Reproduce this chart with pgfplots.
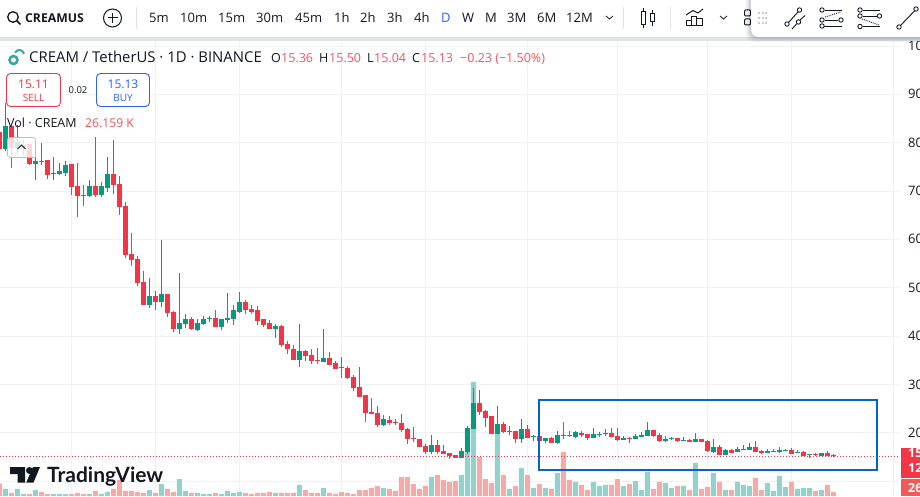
\documentclass[border=0pt]{standalone}
\usepackage{pgfplots}
\usepackage{pgfplotstable}
\usepackage{fontspec}
\pgfplotsset{compat=1.18}
\setmainfont{Open Sans}
\newfontfamily\logofont{Lato}
\definecolor{cr}{HTML}{F23645}
\definecolor{cg}{HTML}{089981}
\definecolor{vr}{HTML}{F7A9A7}
\definecolor{vg}{HTML}{92D2CC}
\definecolor{tx}{HTML}{131722}
\definecolor{lr}{HTML}{F7525F}
\definecolor{bl}{HTML}{2962FF}
\definecolor{box}{HTML}{0066CC}
\definecolor{gridc}{HTML}{F0F1F4}
\definecolor{band}{HTML}{E0E3EB}
\definecolor{volt}{HTML}{EF5B58}
\definecolor{coin}{HTML}{3AA6A6}
\pgfplotstableread{
k h l t b
-1 82.7 78.4 82.2 78.7
1 83.25 74.7 83.25 78.97
4 79.86 75.38 79.72 75.59
6 79.93 75.38 76.21 76.00
7 76.41 72.48 76.41 73.31
11 75.59 69.17 75.59 70.83
12 75.79 64.62 71.03 68.97
13 71.24 66.90 69.17 68.97
15 81.17 68.76 71.03 69.17
18 80.55 69.38 73.52 71.24
19 73.10 65.03 71.45 66.69
20 67.72 56.14 66.90 56.76
21 61.31 54.48 56.96 55.72
22 56.55 50.34 55.93 50.96
23 53.45 46.41 51.17 46.41
25 49.31 45.38 48.27 47.03
27 48.69 43.93 48.69 44.76
28 45.17 40.82 44.96 41.45
31 43.93 41.24 43.51 41.45
35 45.38 41.86 43.72 41.86
40 47.45 44.56 47.04 45.38
41 46.42 44.56 45.59 44.97
42 46.21 42.28 45.18 43.11
43 43.52 41.87 43.52 42.28
44 43.31 41.45 42.49 41.45
46 42.28 37.73 41.87 38.14
47 38.97 36.28 38.35 37.31
48 38.14 35.04 37.31 35.04
50 37.11 34.83 36.90 35.87
51 37.31 34.21 36.07 34.83
52 37.52 34.21 35.04 34.83
54 36.69 34.00 35.45 34.00
55 34.83 33.18 34.42 33.18
56 35.66 31.31 33.59 33.38
57 33.80 31.11 33.38 31.31
58 31.93 28.62 31.52 29.24
59 33.59 27.38 29.45 27.38
60 27.80 22.21 27.80 24.07
61 27.17 23.86 24.28 23.86
62 25.52 21.17 24.07 21.59
64 23.45 21.59 22.62 22.00
65 22.83 21.59 22.21 22.00
66 23.86 20.14 22.00 20.55
67 20.97 17.66 20.76 18.69
68 21.17 18.07 18.90 18.69
69 18.69 17.04 18.69 17.04
70 17.66 15.59 17.24 16.00
72 18.49 15.59 17.45 16.00
73 17.45 15.59 16.21 15.59
74 15.80 14.56 15.80 15.18
75 15.38 14.76 15.38 14.76
79 28.83 23.66 26.14 24.28
80 24.69 21.18 24.49 23.04
81 23.25 19.73 23.25 19.73
83 22.21 19.93 21.80 20.14
85 20.35 17.87 20.35 18.69
87 21.59 18.90 20.56 18.90
89 19.31 18.28 19.31 18.28
91 19.11 17.87 18.90 17.87
93 22.21 18.69 19.52 19.31
94 20.35 19.11 19.52 19.31
96 20.35 19.11 19.93 19.52
97 19.73 18.49 19.73 18.90
101 20.97 19.11 19.93 19.11
102 20.97 18.28 19.31 18.49
104 19.11 17.86 18.90 18.69
108 20.55 19.11 20.55 19.31
109 19.93 18.07 19.52 18.28
112 18.90 18.07 18.90 18.28
114 18.69 18.07 18.48 18.07
116 18.69 18.07 18.69 18.07
117 18.48 16.00 18.28 16.21
119 17.45 15.38 17.04 15.38
121 16.62 15.79 16.42 15.79
125 18.28 16.00 17.04 16.00
126 16.42 15.59 16.21 15.79
131 16.83 15.59 16.42 15.59
133 16.21 15.17 16.00 15.17
135 15.79 15.17 15.59 15.38
137 16.21 15.17 15.79 15.17
138 15.50 15.04 15.36 15.13
}\redc
\pgfplotstableread{
k h l t b
0 88.15 78.3 83.25 78.7
2 83.66 77.45 79.94 78.9
3 80.56 77.45 79.52 78.9
5 77.03 72.28 76.21 75.59
8 77.03 72.28 73.72 73.52
9 75.79 73.31 74.14 73.52
10 76.21 73.10 75.38 73.72
14 72.28 68.76 71.03 68.97
16 71.86 68.76 71.03 69.17
17 77.03 69.79 73.52 70.62
24 52.00 45.79 48.27 46.41
26 59.86 46.00 48.69 47.03
29 53.03 40.41 42.69 41.45
30 44.55 41.65 43.51 42.48
32 43.51 41.03 42.69 41.24
33 44.14 42.27 43.51 42.48
34 44.14 42.89 43.72 43.51
36 43.51 41.24 43.51 41.86
37 48.89 42.69 43.72 43.31
38 46.42 42.28 45.18 43.52
39 49.11 44.76 47.04 44.97
45 42.49 39.59 41.87 41.45
49 42.49 33.59 36.90 35.04
53 41.45 34.62 35.45 34.62
63 23.66 21.38 22.83 21.59
71 19.52 15.59 17.45 16.00
76 16.83 14.76 16.21 14.76
77 21.38 15.59 20.97 16.00
78 29.25 20.76 26.14 20.76
82 25.52 19.73 21.80 19.73
84 21.38 19.52 20.35 20.14
86 22.83 17.87 20.56 18.69
88 19.52 18.28 19.31 19.11
90 18.90 17.87 18.90 18.28
92 20.35 17.66 19.52 17.87
95 20.35 18.90 20.14 19.11
98 20.97 18.90 19.73 18.90
99 20.14 19.11 19.73 19.52
100 20.76 19.31 19.93 19.73
103 19.31 18.48 18.90 18.48
105 19.73 18.69 19.31 18.69
106 20.14 19.11 19.52 19.11
107 22.21 19.31 20.55 19.31
110 19.31 18.07 18.69 18.28
111 19.11 18.48 18.90 18.69
113 19.11 18.28 18.48 18.28
115 19.93 18.07 18.69 18.07
118 18.69 15.79 17.04 16.00
120 16.62 15.38 16.42 15.38
122 17.04 16.00 16.62 16.00
123 17.45 16.42 16.62 16.42
124 17.86 16.42 17.04 16.42
127 16.62 15.79 16.21 15.79
128 16.62 16.00 16.21 16.00
129 17.04 15.79 16.42 16.00
130 16.62 16.21 16.42 16.21
132 16.42 15.79 16.00 15.79
134 15.59 14.76 15.59 15.38
136 15.79 15.17 15.79 15.17
}\greenc
\pgfplotstableread{
k v
0 46
2 46
3 13
5 39
8 13
9 13
10 13
14 13
16 13
17 26
24 39
26 78
29 111
30 33
32 20
33 13
34 13
36 13
37 33
38 20
39 26
45 20
49 72
53 52
63 52
71 124
76 137
77 445
78 746
82 410
84 46
86 183
88 52
90 52
92 150
95 92
98 92
99 65
100 72
103 65
105 98
106 39
107 157
110 85
111 52
113 65
115 216
118 150
120 39
122 92
123 72
124 65
127 85
128 33
129 131
130 59
132 46
133 52
134 52
136 39
}\greenv
\pgfplotstableread{
k v
-1 83
1 20
4 13
6 26
7 13
11 13
12 20
13 13
15 33
18 46
19 105
20 33
21 33
22 26
23 20
25 20
27 46
28 26
31 20
35 20
40 20
41 13
42 20
43 20
44 26
46 20
47 20
48 20
50 39
51 20
52 20
54 20
55 13
56 26
57 20
58 13
59 39
60 39
61 52
62 65
64 46
65 33
66 124
67 124
68 78
69 46
70 65
72 137
73 105
74 92
75 98
79 255
80 111
81 85
83 137
85 65
87 137
89 78
91 46
93 288
94 105
96 72
97 39
101 72
102 111
104 78
108 46
109 92
112 65
114 39
116 46
117 59
119 92
121 39
125 118
126 39
131 92
135 33
137 72
138 26
}\redv
\pgfplotsset{base/.style={
  at={(0,0)}, anchor=south west, scale only axis, width=900pt, height=496pt,
  xmin=-0.888, xmax=149.11,
  axis line style={draw=none}, tick style={draw=none},
  xticklabels={}, yticklabels={}}}
\newcommand{\T}[5][tx]{\node[anchor=base #2, inner sep=0pt, text=#1] at (#3) {#4#5};}
\newcommand{\fs}[1]{\fontsize{#1}{#1}\selectfont}
\begin{document}
\begin{tikzpicture}
\path[use as bounding box] (0,0) rectangle (920pt,496pt);
\clip (0,0) rectangle (920pt,496pt);
\fill[white] (0,0) rectangle (920pt,496pt);
% grid and price scale
\begin{axis}[base, ymin=6.9, ymax=109.52,
  xtick={11,25,39,56,70,87,102,117,131,148},
  ytick={10,20,...,100},
  yticklabels={{},20,30,40,50,60,70,80,90,100},
  yticklabel pos=right,
  /pgf/number format/assume math mode=true,
  yticklabel style={anchor=west, xshift=8pt, inner sep=0pt, font=\fs{13}, text=tx},
  grid=major, grid style={gridc, line width=1pt}]
\addplot[draw=none, forget plot] coordinates {(0,10)};
\end{axis}
% volume
\begin{axis}[base, ymin=0, ymax=3244, xtick=\empty, ytick=\empty, ybar, bar width=5pt, bar shift=0pt]
\addplot[draw=none, fill=vg] table[x=k,y=v] {\greenv};
\addplot[draw=none, fill=vr] table[x=k,y=v] {\redv};
\end{axis}
% candles
\begin{axis}[base, ymin=6.9, ymax=109.52, xtick=\empty, ytick=\empty]
\addplot[draw=none, mark=none, forget plot, error bars/.cd, y dir=plus, y explicit, error mark=none,
  error bar style={draw=cr, line width=1pt}]
  table[x=k, y=l, y error expr=\thisrow{h}-\thisrow{l}] {\redc};
\addplot[draw=none, mark=none, forget plot, error bars/.cd, y dir=plus, y explicit, error mark=none,
  error bar style={draw=cr, line width=4.8pt}]
  table[x=k, y=b, y error expr=\thisrow{t}-\thisrow{b}+0.1] {\redc};
\addplot[draw=none, mark=none, forget plot, error bars/.cd, y dir=plus, y explicit, error mark=none,
  error bar style={draw=cg, line width=1pt}]
  table[x=k, y=l, y error expr=\thisrow{h}-\thisrow{l}] {\greenc};
\addplot[draw=none, mark=none, forget plot, error bars/.cd, y dir=plus, y explicit, error mark=none,
  error bar style={draw=cg, line width=4.8pt}]
  table[x=k, y=b, y error expr=\thisrow{t}-\thisrow{b}+0.1] {\greenc};
\addplot[cr, line width=1pt, dash pattern=on 1pt off 2pt, mark=none] coordinates {(-0.888,15.13) (149.11,15.13)};
\end{axis}
% page furniture, in pixel coordinates
\begin{scope}[x=1pt, y=-1pt, shift={(0,496pt)}]
% blue rectangle
\draw[box, line width=2pt] (539,400) rectangle (877,469.5);
% price tags
\fill[cr] (900.5,448) rectangle (920,478);
\fill[volt] (900.5,479) rectangle (920,496);
\T[white]{west}{908,457.5}{\fs{12.5}\bfseries}{15}
\T[white]{west}{908,472.5}{\fs{12.5}\bfseries}{12}
\T[white]{west}{908,492}{\fs{12.5}\bfseries}{26}
% toolbar
\fill[white] (0,0) rectangle (920,37);
\fill[band] (0,37) rectangle (920,41);
\draw[tx, line width=1.3pt] (13,17) circle (5.3);
\draw[tx, line width=1.5pt] (17,21) -- (20.5,24.5);
\T{west}{25,23}{\fs{12.2}\bfseries}{CREAMUS}
\draw[tx, line width=1pt] (112.5,18) circle (9);
\draw[tx, line width=1pt] (107.5,18) -- (117.5,18) (112.5,13) -- (112.5,23);
\fill[band] (136,7) rectangle (137,29);
\T{west}{149,23}{\fs{13}}{5m}
\T{west}{180,23}{\fs{13}}{10m}
\T{west}{218,23}{\fs{13}}{15m}
\T{west}{256,23}{\fs{13}}{30m}
\T{west}{295,23}{\fs{13}}{45m}
\T{west}{334,23}{\fs{13}}{1h}
\T{west}{360,23}{\fs{13}}{2h}
\T{west}{387,23}{\fs{13}}{3h}
\T{west}{414,23}{\fs{13}}{4h}
\T[bl]{west}{441,23}{\fs{13}}{D}
\T{west}{462,23}{\fs{13}}{W}
\T{west}{485,23}{\fs{13}}{M}
\T{west}{507,23}{\fs{13}}{3M}
\T{west}{537,23}{\fs{13}}{6M}
\T{west}{566,23}{\fs{13}}{12M}
\draw[tx, line width=.8pt] (606,16) -- (609.5,19) -- (613,16);
\fill[band] (623,7) rectangle (624,29);
\draw[tx, line width=1pt] (641.5,11.5) rectangle (645.5,25) (643.5,8) -- (643.5,11.5) (643.5,25) -- (643.5,28);
\draw[tx, line width=1pt] (650,14) rectangle (654,22) (652,10) -- (652,14) (652,22) -- (652,26);
\fill[band] (670,7) rectangle (671,29);
\draw[tx, line width=1pt] (686,15) -- (693,10.5) -- (698,13) -- (703,9);
\draw[tx, line width=1pt] (686.5,21) rectangle (691,26) (691,17) rectangle (696,26) (696,19) rectangle (702.5,26);
\draw[tx, line width=.8pt] (720,16) -- (723.5,19) -- (727,16);
\draw[tx, line width=1pt, rounded corners=1pt] (744.5,10) rectangle (750.5,16) (744.5,19) rectangle (750.5,25);
% floating panel
\foreach \o/\d in {0.05/5,0.06/3.5,0.08/2}{
 \fill[black, opacity=\o, rounded corners=8pt] (751-\d,-10) rectangle (930,37+\d);
}
\fill[white, rounded corners=8pt] (751,-10) rectangle (930,37);
\foreach \a in {759,763,766}\foreach \b in {13,18,23}{\fill[black!20] (\a-1,\b-1) rectangle (\a+1,\b+1);}
\begin{scope}[tx, line width=.9pt]
\draw (788.5,22.5) -- (798,12); \draw (787,24) circle (2.2); \draw (799.5,10) circle (2.2);
\draw (792,29) -- (796.5,24); \draw (800,20) -- (805,15.5); \draw (798.5,22) circle (2.2);
\draw (825,10) -- (842,10); \draw (822,10) circle (2.2);
\draw (825,20) -- (838,20); \draw (822,20) circle (2.2); \draw (841,20) circle (2.2);
\draw (824,26) -- (842,26); \draw (822,26) circle (2.2);
\draw[densely dotted] (825,17) -- (841,12);
\draw (863,10) -- (880,10); \draw (860,10) circle (2.2);
\draw (863,16) -- (877,16); \draw (860,16) circle (2.2); \draw (879.5,16) circle (2.2);
\draw (863,26.5) -- (880,26.5); \draw (860,26.5) circle (2.2);
\draw[densely dotted] (862,19) -- (879,25);
\draw (900.5,25.5) -- (914.5,11); \draw (899,27) circle (2.2); \draw (916,9) circle (2.2);
\end{scope}
% legend row
\draw[coin, line width=2.6pt] (13.5,60) circle (4);
\draw[coin, line width=2pt] (15,52.5) .. controls (18,48.5) and (23,49.5) .. (24,54);
\T{west}{29,63}{\fs{14.9}}{CREAM / TetherUS · 1D · BINANCE}
\T{west}{271,63}{\fs{12.5}}{O}
\T[lr]{west}{281,63}{\fs{12.5}}{15.36}
\T{west}{319,63}{\fs{12.5}}{H}
\T[lr]{west}{329,63}{\fs{12.5}}{15.50}
\T{west}{367,63}{\fs{12.5}}{L}
\T[lr]{west}{374,63}{\fs{12.5}}{15.04}
\T{west}{412,63}{\fs{12.5}}{C}
\T[lr]{west}{421,63}{\fs{12.5}}{15.13}
\T[lr]{west}{460,63}{\fs{12.5}}{−0.23 (−1.50\%)}
% buy and sell
\draw[cr, fill=white, line width=.9pt, rounded corners=4pt] (6.5,73.5) rectangle (60.5,106.5);
\draw[bl, fill=white, line width=.9pt, rounded corners=4pt] (96.5,73.5) rectangle (149.5,106.5);
\T[cr]{}{33.5,88.5}{\fs{12}}{15.11}
\T[cr]{}{33.5,102}{\fs{10}}{SELL}
\T{}{78,94}{\fs{9.5}}{0.02}
\T[bl]{}{123,88.5}{\fs{12}}{15.13}
\T[bl]{}{123,102}{\fs{10}}{BUY}
% volume legend
\T{west}{7,128}{\fs{12.5}}{Vol · CREAM}
\T[lr]{west}{85,128}{\fs{12.2}}{26.159 K}
\draw[black!25, fill=white, fill opacity=.8, line width=.8pt, rounded corners=2.5pt] (7.5,137.5) rectangle (35.5,157.5);
\draw[tx, line width=1pt] (17.5,149) -- (21.5,145) -- (25.5,149);
% logo
\fill[tx] (10,467) -- (25,467) -- (25,482.5) -- (17.5,482.5) -- (17.5,474) -- (10,474) -- cycle;
\fill[tx] (29.5,470.5) circle (3.5);
\fill[tx] (33,467) -- (40,467) -- (33.5,482.5) -- (26.3,482.5) -- cycle;
\T{west}{47,482}{\logofont\fs{21}\bfseries}{TradingView}
\end{scope}
\end{tikzpicture}
\end{document}
